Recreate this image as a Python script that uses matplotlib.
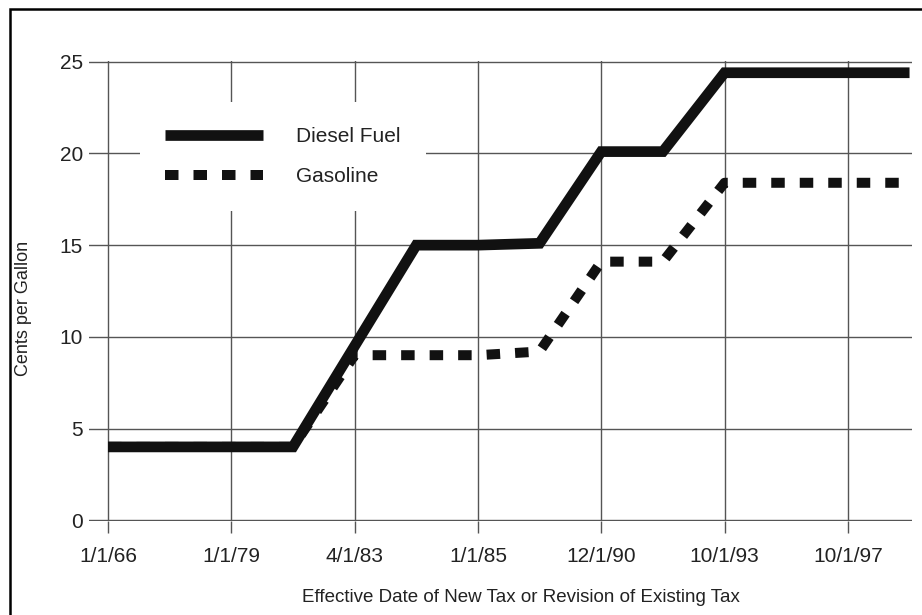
import matplotlib
matplotlib.use("Agg")
import matplotlib.pyplot as plt
from matplotlib.patches import Rectangle

# Data (x = position on the categorical date axis)
tick_labels = ["1/1/66", "1/1/79", "4/1/83", "1/1/85", "12/1/90", "10/1/93", "10/1/97"]
diesel_x = [0, 1, 1.5, 2.5, 3, 3.5, 4, 4.5, 5, 6, 6.5]
diesel_y = [4, 4, 4, 15, 15, 15.1, 20.1, 20.1, 24.4, 24.4, 24.4]
gas_x = [0, 1, 1.5, 2, 2.5, 3, 3.5, 4, 4.5, 5, 6, 6.5]
gas_y = [4, 4, 4, 9, 9, 9, 9.2, 14.1, 14.1, 18.4, 18.4, 18.4]

plt.rcParams["font.family"] = ["Liberation Sans", "DejaVu Sans"]
text_color = "#222222"
grid_color = "#555555"

fig = plt.figure(figsize=(9.22, 6.15), dpi=100)
ax = fig.add_axes([89 / 922, 94 / 615, 823 / 922, 460 / 615])

ax.plot(diesel_x, diesel_y, color="#111111", linewidth=7.7,
        solid_joinstyle="miter", solid_capstyle="butt", label="Diesel Fuel", zorder=4)
ax.plot(gas_x, gas_y, color="#111111", linewidth=7.2, dashes=(1.35, 1.5),
        dash_capstyle="butt", label="Gasoline", zorder=3)

ax.set_xlim(-0.154, 6.52)
ax.set_ylim(-0.04, 25.04)
ax.set_xticks(range(len(tick_labels)))
ax.set_xticklabels(tick_labels)
ax.set_yticks([0, 5, 10, 15, 20, 25])

for s in ax.spines.values():
    s.set_visible(False)
ax.set_axisbelow(True)
ax.grid(True, color=grid_color, linewidth=1.0)
ax.tick_params(axis="x", direction="out", length=8.6, width=1.0, color=grid_color,
               pad=10, labelsize=15, labelcolor=text_color)
ax.tick_params(axis="y", length=0, pad=4.3, labelsize=15, labelcolor=text_color)

leg = ax.legend(loc="upper left", bbox_to_anchor=(140 / 922, 1 - 102 / 615),
                bbox_transform=fig.transFigure, borderaxespad=0, borderpad=1.2,
                fontsize=15, handlelength=4.7, handletextpad=1.6, labelspacing=1.0,
                frameon=True, fancybox=False)
leg.get_frame().set_facecolor("white")
leg.get_frame().set_edgecolor("none")
leg.get_frame().set_alpha(1)
for t in leg.get_texts():
    t.set_color(text_color)

fig.text(521 / 922, 1 - 598 / 615, "Effective Date of New Tax or Revision of Existing Tax",
         ha="center", va="center", fontsize=13.5, color=text_color)
fig.text(23 / 922, 1 - 308 / 615, "Cents per Gallon", rotation=90,
         ha="center", va="center", fontsize=13, color=text_color)

# outer frame (left and top edges visible)
fig.patches.append(Rectangle((9.5 / 922, -0.05), 1.2, 1.05 - 8.5 / 615, fill=False,
                             edgecolor="black", linewidth=1.8, transform=fig.transFigure))

fig.savefig("out.png", dpi=100)
